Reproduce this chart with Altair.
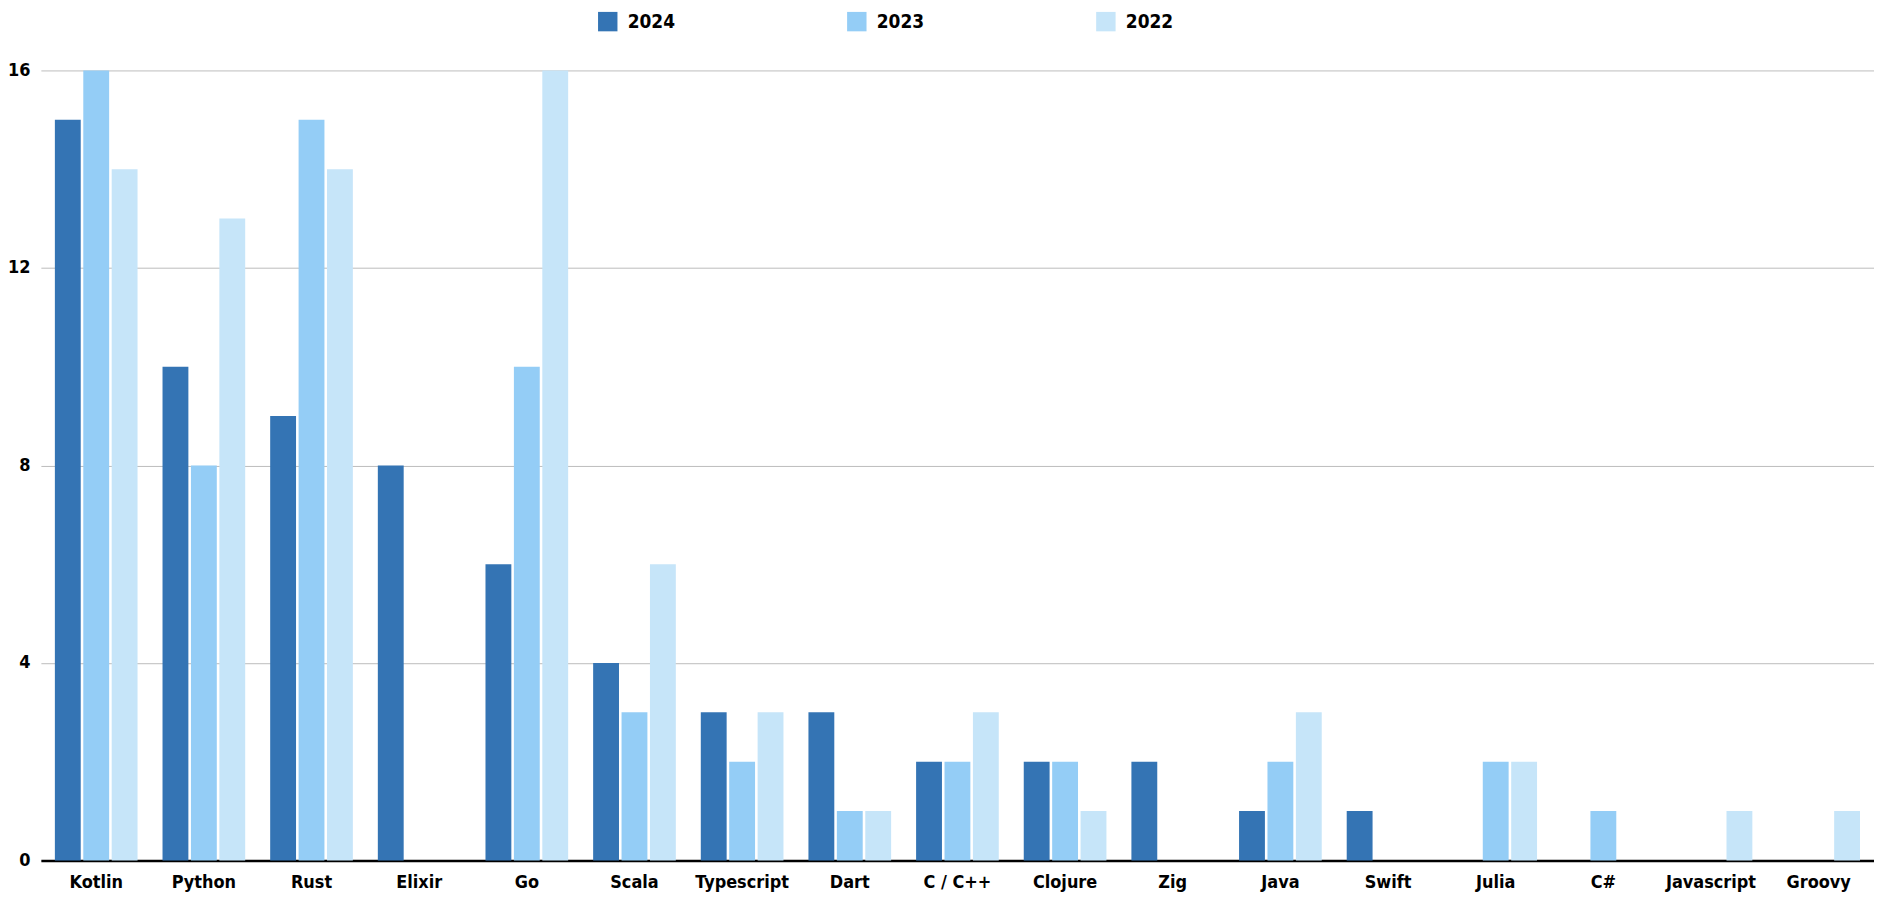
import altair as alt
import pandas as pd

languages = ["Kotlin", "Python", "Rust", "Elixir", "Go", "Scala", "Typescript", "Dart",
             "C / C++", "Clojure", "Zig", "Java", "Swift", "Julia", "C#", "Javascript", "Groovy"]
years = ["2024", "2023", "2022"]
v2024 = [15, 10, 9, 8, 6, 4, 3, 3, 2, 2, 2, 1, 1, 0, 0, 0, 0]
v2023 = [16, 8, 15, 0, 10, 3, 2, 1, 2, 2, 0, 2, 0, 2, 1, 0, 0]
v2022 = [14, 13, 14, 0, 16, 6, 3, 1, 3, 1, 0, 3, 0, 2, 0, 1, 1]
colors = ["#3474b4", "#94cdf6", "#c6e5f9"]

rows = []
for year, vals in zip(years, [v2024, v2023, v2022]):
    for lang, v in zip(languages, vals):
        rows.append({"language": lang, "year": year, "value": v})
df = pd.DataFrame(rows)

FONT = "Liberation Sans Narrow, DejaVu Sans Condensed, Roboto, sans-serif"

chart = alt.Chart(df).transform_filter(
    alt.datum.value > 0
).mark_bar().encode(
    x=alt.X("language:N", sort=languages, title=None,
            scale=alt.Scale(paddingInner=0.232, paddingOuter=0.13),
            axis=alt.Axis(labelAngle=0, ticks=False, domain=True, domainColor="#000000",
                          domainWidth=2.5, labelPadding=13, labelFontSize=18,
                          labelFont=FONT, labelFontWeight="bold", labelColor="#000000",
                          grid=False, labelBaseline="top")),
    xOffset=alt.XOffset("year:N", sort=years, scale=alt.Scale(paddingInner=0.09)),
    y=alt.Y("value:Q", title=None,
            scale=alt.Scale(domain=[0, 16], nice=False),
            axis=alt.Axis(values=[0, 4, 8, 12, 16], ticks=False, domain=False,
                          grid=True, gridColor="#bdbdbd", gridWidth=1,
                          labelPadding=11, labelFontSize=18, labelFont=FONT,
                          labelFontWeight="bold", labelColor="#000000")),
    color=alt.Color("year:N", sort=years, title=None,
                    scale=alt.Scale(domain=years, range=colors),
                    legend=alt.Legend(orient="none", legendX=559, legendY=-59,
                                      direction="horizontal", columns=3,
                                      symbolType="square", symbolSize=380,
                                      symbolStrokeWidth=0, symbolOpacity=1,
                                      labelFontSize=19, labelFont=FONT,
                                      labelFontWeight="bold", labelColor="#000000",
                                      labelOffset=10, columnPadding=172, padding=0)),
).properties(
    width=1840, height=793,
    autosize=alt.AutoSizeParams(type="none"),
    padding={"left": 33, "top": 61, "right": 0, "bottom": 35},
).configure_view(stroke=None)

chart.save("out.html", embed_options={"renderer": "svg", "actions": False})
